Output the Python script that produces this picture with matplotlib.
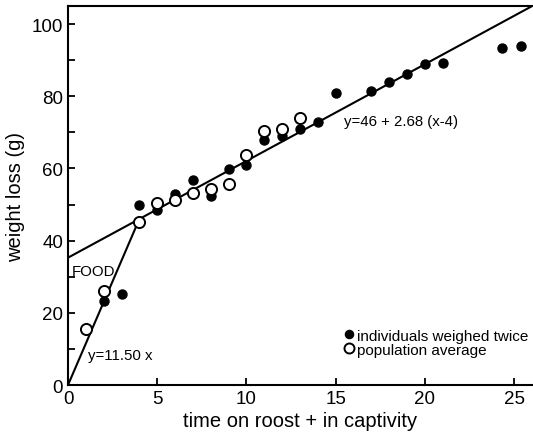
import matplotlib.pyplot as plt
import numpy as np

plt.rcParams['font.family'] = ['Liberation Sans', 'DejaVu Sans']

# individuals weighed twice (filled dots)
filled_x = [2, 3, 4, 5, 6, 7, 8, 9, 10, 11, 12, 13, 14, 15, 17, 18, 19, 20, 21, 24.3, 25.4]
filled_y = [23.4, 25.2, 49.9, 48.6, 52.8, 56.7, 52.3, 59.8, 60.9, 67.8, 68.9, 71.0, 72.8,
            80.9, 81.5, 83.9, 86.2, 89.0, 89.2, 93.4, 93.9]

# population average (open circles)
open_x = [1, 2, 4, 5, 6, 7, 8, 9, 10, 11, 12, 13]
open_y = [15.5, 26.1, 45.3, 50.3, 51.2, 53.1, 54.2, 55.6, 63.8, 70.3, 71.0, 74.1]

# fitted lines
slope1 = 11.50
brk = 4
icpt2 = 46
slope2 = 2.68

fig = plt.figure(figsize=(5.33, 4.39), dpi=100)
ax = fig.add_axes([0.1276, 0.1207, 0.8704, 0.8633])

x1 = np.array([0, brk])
ax.plot(x1, slope1 * x1, color='black', lw=1.5, zorder=2)
x2 = np.array([0, 26])
ax.plot(x2, icpt2 + slope2 * (x2 - brk), color='black', lw=1.5, zorder=2)

ax.plot(filled_x, filled_y, 'o', color='black', ms=6.5, zorder=3,
        label='individuals weighed twice')
ax.plot(open_x, open_y, 'o', mfc='white', mec='black', mew=1.4, ms=8, zorder=4,
        label='population average')

ax.text(0.2, 31.5, 'FOOD', fontsize=10.8, va='center', ha='left')
ax.text(1.1, 8.4, 'y=11.50 x', fontsize=10.8, va='center', ha='left')
ax.text(15.45, 73.1, 'y=46 + 2.68 (x-4)', fontsize=10.8, va='center', ha='left')

leg = ax.legend(loc='lower left', bbox_to_anchor=(0.58, 0.055), frameon=False,
                fontsize=11, handlelength=0.6, handletextpad=0.2, labelspacing=0.0,
                borderpad=0, markerscale=0.9)

ax.set_xlim(0, 26)
ax.set_ylim(0, 105)
ax.set_xticks([0, 5, 10, 15, 20, 25])
ax.set_yticks([0, 20, 40, 60, 80, 100])
ax.set_yticks(np.arange(0, 105, 10), minor=True)
ax.tick_params(direction='in', length=5, width=1.3, labelsize=13.5)
ax.tick_params(which='minor', direction='in', length=5, width=1.3)
ax.spines['right'].set_visible(False)
for s in ['top', 'left', 'bottom']:
    ax.spines[s].set_linewidth(1.5)

ax.set_xlabel('time on roost + in captivity', fontsize=14.5, labelpad=3)
ax.set_ylabel('weight loss (g)', fontsize=14.5, labelpad=5)

fig.savefig('out.png', dpi=100)
